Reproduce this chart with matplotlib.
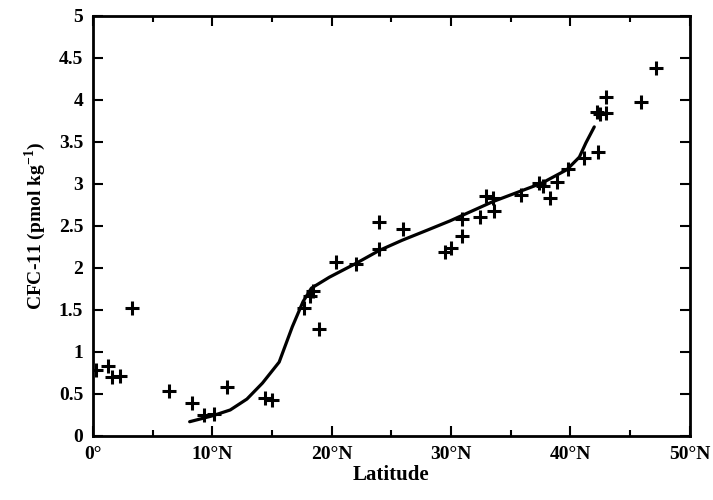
import matplotlib
matplotlib.use("Agg")
import matplotlib.pyplot as plt
from matplotlib.ticker import MultipleLocator, FixedLocator, FuncFormatter

plt.rcParams['font.family'] = ['Liberation Serif', 'DejaVu Serif']
plt.rcParams['font.weight'] = 'bold'
plt.rcParams['mathtext.fontset'] = 'custom'
plt.rcParams['mathtext.rm'] = 'Liberation Serif:bold'
plt.rcParams['mathtext.bf'] = 'Liberation Serif:bold'

# Observed CFC-11 samples
obs_lat = [0.25, 1.3, 1.6, 2.3, 3.3, 6.4, 8.3, 9.3, 10.1, 11.2, 14.4, 15.0,
           17.7, 18.2, 18.4, 18.9, 20.4, 22.0, 24.0, 24.0, 26.0, 29.5, 30.0,
           30.9, 30.9, 32.4, 32.9, 33.5, 33.6, 35.9, 37.4, 37.7, 38.3, 38.9,
           39.8, 41.1, 42.3, 42.2, 42.5, 43.0, 43.0, 45.9, 47.2]
obs_cfc = [0.78, 0.83, 0.70, 0.71, 1.52, 0.54, 0.39, 0.25, 0.26, 0.58, 0.45, 0.43,
           1.52, 1.67, 1.73, 1.27, 2.07, 2.05, 2.23, 2.55, 2.46, 2.19, 2.24,
           2.58, 2.38, 2.61, 2.86, 2.83, 2.68, 2.87, 3.01, 2.98, 2.83, 3.02,
           3.18, 3.31, 3.38, 3.86, 3.83, 3.85, 4.04, 3.98, 4.38]

# Model curve
model_lat = [8.1, 10.0, 11.5, 12.9, 14.2, 15.6, 16.7, 17.6, 18.3, 19.8, 22.1,
             24.0, 25.9, 28.0, 29.9, 31.0, 33.5, 37.6, 39.7, 40.75, 41.3, 42.0]
model_cfc = [0.17, 0.24, 0.31, 0.44, 0.63, 0.88, 1.30, 1.60, 1.76, 1.89, 2.06,
             2.21, 2.33, 2.45, 2.56, 2.63, 2.79, 3.01, 3.17, 3.32, 3.49, 3.68]

x_ticks = [0, 10, 20, 30, 40, 50]
x_tick_labels = ['0°', '10°N', '20°N', '30°N', '40°N', '50°N']

fig = plt.figure(figsize=(7.13, 5.0), dpi=100)
ax = fig.add_axes([0.1304, 0.128, 0.837, 0.840])

ax.plot(model_lat, model_cfc, color='black', lw=2.3, solid_capstyle='round')
ax.plot(obs_lat, obs_cfc, ls='none', marker='+', color='black', ms=10, mew=2.2)

ax.set_xlim(0, 50)
ax.set_ylim(0, 5)
ax.xaxis.set_major_locator(FixedLocator(x_ticks))
ax.set_xticklabels(x_tick_labels)
ax.xaxis.set_minor_locator(MultipleLocator(5))
ax.yaxis.set_major_locator(MultipleLocator(0.5))
ax.yaxis.set_major_formatter(FuncFormatter(lambda v, p: f'{v:g}'))

ax.tick_params(which='both', direction='in', top=True, right=True,
               labelsize=14, width=1.5)
ax.tick_params(which='major', length=7, pad=7)
ax.tick_params(which='minor', length=4)
for lab in ax.get_xticklabels() + ax.get_yticklabels():
    lab.set_fontweight('bold')
for s in ax.spines.values():
    s.set_linewidth(2)

ax.set_xlabel('Latitude', fontsize=15, fontweight='bold', labelpad=2)
ax.set_ylabel(r'CFC-11 (pmol kg$^{-1}$)', fontsize=14, fontweight='bold', labelpad=8)

fig.savefig('out.png', dpi=100)
